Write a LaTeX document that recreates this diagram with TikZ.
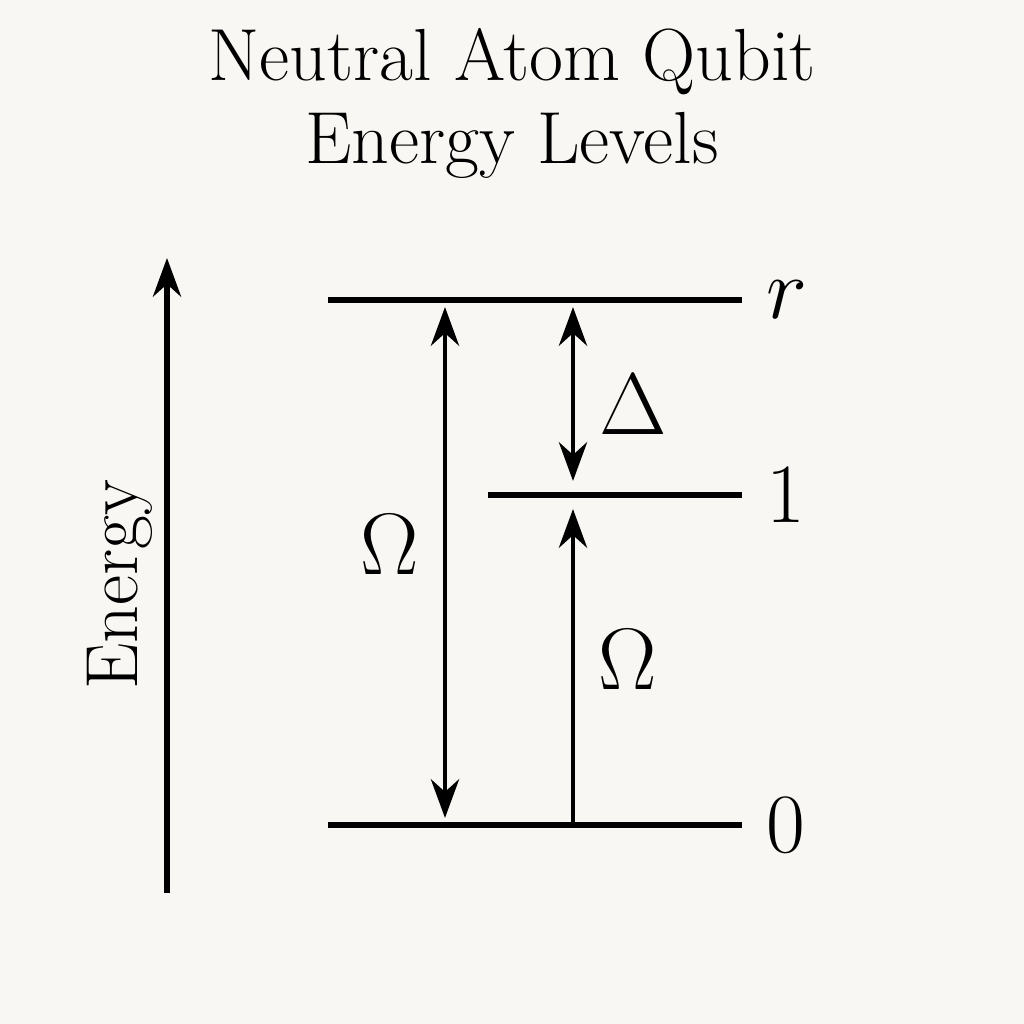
\documentclass[tikz,border=0pt]{standalone}
\usepackage{tikz}
\usetikzlibrary{positioning, arrows.meta}

\begin{document}
\begin{tikzpicture}

% Define colors
\definecolor{paper}{RGB}{248, 247, 243}

% Fix the canvas
\fill[paper] (0, 0) rectangle (10.24, 10.24);
\useasboundingbox (0, 0) rectangle (10.24, 10.24);

\tikzset{
  level/.style={line width=1.6pt},
  trans/.style={line width=1.4pt, -{Stealth[length=11pt, width=8pt]}},
  twoway/.style={line width=1.4pt, {Stealth[length=11pt, width=8pt]}-{Stealth[length=11pt, width=8pt]}},
  lbl/.style={font=\fontsize{24}{28}\selectfont}
}

% Title
\node[font=\fontsize{21}{24}\selectfont] (title1) at (5.12, 9.62) {Neutral Atom Qubit};
\node[font=\fontsize{21}{24}\selectfont] (title2) at (5.12, 8.79) {Energy Levels};

% Energy axis
\coordinate (axbot) at (1.67, 1.31);
\coordinate (axtop) at (1.67, 7.66);
\draw[trans, line width=1.6pt] (axbot) -- (axtop);
\node[rotate=90, font=\fontsize{21}{24}\selectfont] (axlabel) at (1.20, 4.39) {Energy};

% Draw the levels
\coordinate (rL) at (3.28, 7.24);
\coordinate (rR) at (7.42, 7.24);
\coordinate (oneL) at (4.88, 5.29);
\coordinate (oneR) at (7.42, 5.29);
\coordinate (zeroL) at (3.28, 1.99);
\coordinate (zeroR) at (7.42, 1.99);
\draw[level] (rL) -- (rR);
\draw[level] (oneL) -- (oneR);
\draw[level] (zeroL) -- (zeroR);

% Level labels
\node[lbl, right=0.12 of rR] (rlab) {$r$};
\node[lbl, right=0.12 of oneR] (onelab) {1};
\node[lbl, right=0.12 of zeroR] (zerolab) {0};

% Draw the transitions
\coordinate (a1) at (4.45, 7.24);
\coordinate (a2) at (4.45, 1.99);
\coordinate (b1) at (5.73, 7.24);
\coordinate (b2) at (5.73, 5.29);
\coordinate (c1) at (5.73, 1.99);
\draw[twoway, shorten <=2pt, shorten >=2pt] (a1) -- (a2);
\draw[twoway, shorten <=2pt, shorten >=4pt] (b1) -- (b2);
\draw[trans, shorten >=4pt] (c1) -- (b2);

% Transition labels
\node[lbl] (omegaA) at (3.90, 4.79) {$\Omega$};
\node[lbl] (delta) at (6.33, 6.19) {$\Delta$};
\node[lbl] (omegaB) at (6.28, 3.64) {$\Omega$};

\end{tikzpicture}
\end{document}
